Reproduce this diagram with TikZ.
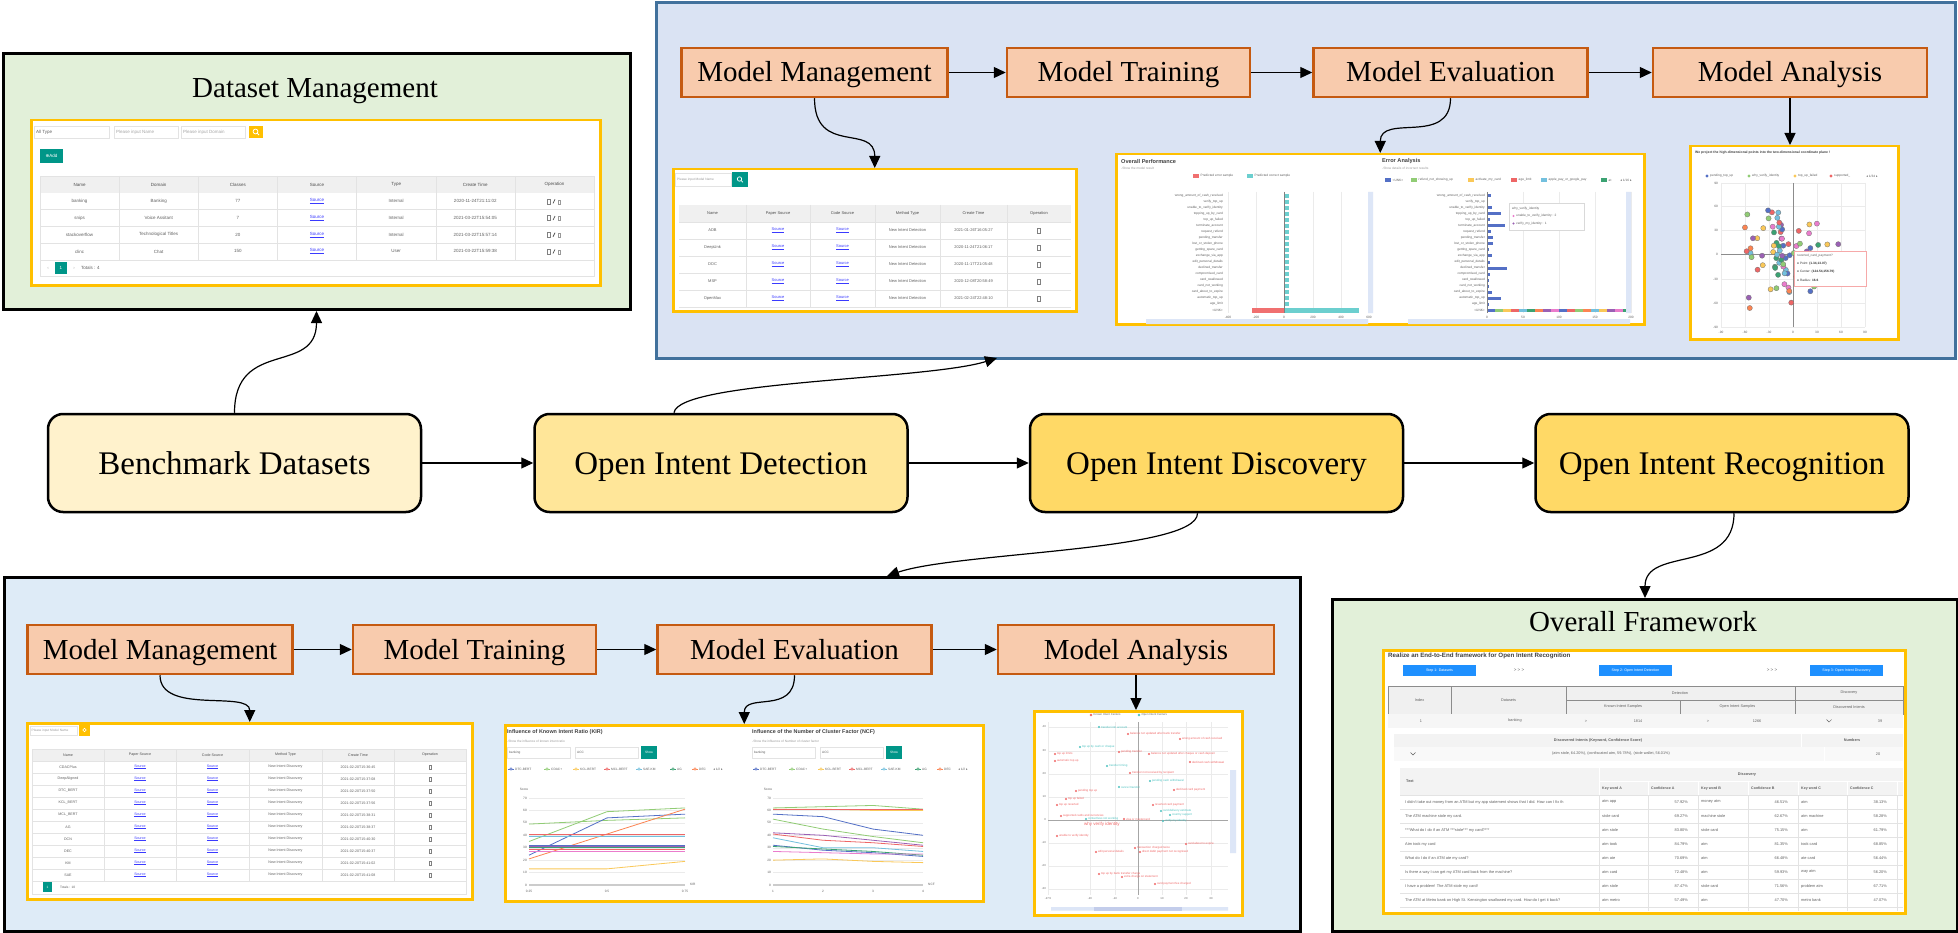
\documentclass[tikz,border=0pt]{standalone}
\usepackage{fontspec}
\setmainfont{Liberation Serif}
\newfontfamily\uifont{Liberation Sans}
\newfontfamily\symfont{DejaVu Sans}
\usepackage{xcolor}
\usepackage{tikz}
\usetikzlibrary{arrows.meta,positioning,calc}
\definecolor{PanelGreen}{HTML}{E2F0D9}
\definecolor{PanelBlue}{HTML}{DAE3F3}
\definecolor{PanelBlueEdge}{HTML}{41719C}
\definecolor{PanelSky}{HTML}{DEEBF7}
\definecolor{MgmtFill}{HTML}{F8CBAD}
\definecolor{MgmtEdge}{HTML}{C55A11}
\definecolor{StageLight}{HTML}{FFF2CC}
\definecolor{StageMid}{HTML}{FFE699}
\definecolor{StageDeep}{HTML}{FFD966}
\definecolor{ShotEdge}{HTML}{FFC000}
\definecolor{UiGreen}{HTML}{009688}
\definecolor{UiGrey}{HTML}{F0F0F0}
\definecolor{UiLine}{HTML}{E3E3E3}
\definecolor{UiText}{HTML}{606060}
\definecolor{UiBlue}{HTML}{1E90FF}
\definecolor{UiLink}{HTML}{3A3AFF}
\definecolor{UiCyan}{HTML}{6CCFCF}
\definecolor{UiRed}{HTML}{F07070}
\definecolor{UiSky}{HTML}{DDE6F7}
\definecolor{CenterRed}{HTML}{F06666}
\definecolor{CenterCyan}{HTML}{4CC2C0}
\definecolor{Sc0}{HTML}{5470C6}
\definecolor{Sc1}{HTML}{91CC75}
\definecolor{Sc2}{HTML}{FAC858}
\definecolor{Sc3}{HTML}{EE6666}
\definecolor{Sc4}{HTML}{73C0DE}
\definecolor{Sc5}{HTML}{3BA272}
\definecolor{Sc6}{HTML}{FC8452}
\definecolor{Sc7}{HTML}{9A60B4}
\definecolor{Sc8}{HTML}{EA7CCC}
\newcommand\evlabels{wrong\_amount\_of\_cash\_received, verify\_top\_up, unable\_to\_verify\_identity, topping\_up\_by\_card, top\_up\_failed, terminate\_account, request\_refund, pending\_transfer, lost\_or\_stolen\_phone, getting\_spare\_card, exchange\_via\_app, edit\_personal\_details, declined\_transfer, compromised\_card, card\_swallowed, card\_not\_working, card\_about\_to\_expire, automatic\_top\_up, age\_limit, <UNK>}

\begin{document}
\begin{tikzpicture}[x=1pt, y=-1pt,
  panel/.style={draw, line width=3pt, inner sep=0pt, anchor=north west},
  paneltitle/.style={font=\fontsize{29}{34}\selectfont},
  stage/.style={draw, line width=2.5pt, rounded corners=15pt, minimum width=373pt, minimum height=98pt, text height=22pt, text depth=0pt, font=\fontsize{33}{38}\selectfont},
  mbox/.style={draw=MgmtEdge, fill=MgmtFill, line width=2.5pt, minimum height=49pt, text height=19pt, text depth=0pt, font=\fontsize{29}{34}\selectfont},
  shot/.style={draw=ShotEdge, fill=white, line width=2.5pt, anchor=north west, inner sep=0pt},
  arrow/.style={-{Triangle[length=12pt,width=11pt]}, line width=1.2pt},
  ui/.style={font=\uifont\fontsize{4.5}{5}\selectfont, text=UiText, inner sep=0pt},
  uihead/.style={font=\uifont\bfseries\fontsize{5.6}{6}\selectfont, text=black!75, inner sep=0pt},
  micro/.style={font=\uifont\fontsize{3.2}{4}\selectfont, text=UiText, inner sep=0pt}
]
\useasboundingbox (0,0) rectangle (1958,933);

\node[panel, fill=PanelGreen, minimum width=627pt, minimum height=256pt] (dspanel) at (1.5,52) {};
\node[panel, draw=PanelBlueEdge, fill=PanelBlue, minimum width=1299pt, minimum height=355pt] (detpanel) at (655,1.5) {};
\node[panel, fill=PanelSky, minimum width=1296pt, minimum height=354pt] (dispanel) at (3,576) {};
\node[panel, fill=PanelGreen, minimum width=625pt, minimum height=332pt] (fwpanel) at (1331,598) {};
\node[paneltitle] (dstitle) at (315,91) {Dataset Management};
\node[paneltitle] (fwtitle) at (1643,622) {Overall Framework};

\node[stage, fill=StageLight] (bench) at (234.5,463) {Benchmark Datasets};
\node[stage, fill=StageMid, right=111pt of bench] (odet) {Open Intent Detection};
\node[stage, fill=StageDeep, right=120pt of odet] (odis) {Open Intent Discovery};
\node[stage, fill=StageDeep, right=130pt of odis] (orec) {Open Intent Recognition};

\node[mbox, minimum width=266pt] (mm1) at (814.5,72.5) {Model Management};
\node[mbox, minimum width=243pt, right=57pt of mm1] (mt1) {Model Training};
\node[mbox, minimum width=274pt, right=61pt of mt1] (me1) {Model Evaluation};
\node[mbox, minimum width=274pt, right=63pt of me1] (ma1) {Model Analysis};
\node[mbox, minimum width=265pt] (mm2) at (160,649.5) {Model Management};
\node[mbox, minimum width=243pt, right=58pt of mm2] (mt2) {Model Training};
\node[mbox, minimum width=274pt, right=59pt of mt2] (me2) {Model Evaluation};
\node[mbox, minimum width=276pt, right=64pt of me2] (ma2) {Model Analysis};

\node[shot, minimum width=569pt, minimum height=165pt] (dsshot) at (30,119) {};
\draw[UiLine] (34,126) rectangle (109,138) (114,126) rectangle (178,138) (181,126) rectangle (245,138);
\node[ui, anchor=west] (dstype) at (36,132) {All Type};
\node[ui, anchor=west, text=black!35] (dsname) at (116,132) {Please input Name};
\node[ui, anchor=west, text=black!35] (dsdomain) at (183,132) {Please input Domain};
\fill[ShotEdge] (249,126) rectangle (263,138);
\draw[white, line width=0.8pt] (255.5,131.5) circle[radius=2.4pt] (257.3,133.3) -- (259,135);
\fill[UiGreen] (40,149) rectangle (63,163);
\node[ui, text=white] (dsadd) at (51.5,156) {{\symfont\fontsize{4.5}{5}\selectfont ⊕}Add};
\fill[UiGrey] (40,176) rectangle (594,193);
\draw[UiLine] (40,176) rectangle (594,276);
\foreach \k in {1,...,4} \draw[UiLine] (40,{193+16.7*\k}) -- (594,{193+16.7*\k});
\foreach \k in {1,...,6} \draw[UiLine] ({40+79.14*\k},176) -- ({40+79.14*\k},260);
\foreach \hd [count=\i] in {Name,Domain,Classes,Source,Type,Create Time,Operation}
  \node[ui, text=black!70] (dsh\i) at ({40+79.14*(\i-0.5)},184.5) {\hd};
\foreach \dn/\dd/\dc/\dt/\dm [count=\rw] in {banking/Banking/77/Internal/2020-11-24T21:11:02, snips/Voice Assitant/7/Internal/2021-03-22T15:54:05, stackoverflow/Technological Titles/20/Internal/2021-03-22T15:57:14, clinc/Chat/150/User/2021-03-22T15:59:38} {
  \pgfmathsetmacro\yy{193+16.7*(\rw-0.5)}
  \node[ui] (dsn\rw) at (79.6,\yy) {\dn};
  \node[ui] (dsd\rw) at (158.7,\yy) {\dd};
  \node[ui] (dsc\rw) at (237.8,\yy) {\dc};
  \node[ui, text=UiLink] (dss\rw) at (317,\yy) {\underline{Source}};
  \node[ui] (dst\rw) at (396.1,\yy) {\dt};
  \node[ui] (dsm\rw) at (475.3,\yy) {\dm};
  \draw[black!50, line width=0.5pt] (547,\yy-2.5) rectangle (550,\yy+2.5);
  \draw[black!70, line width=0.7pt] (553,\yy+2) -- (555,\yy-2);
  \draw[black!40, line width=0.5pt] (558,\yy-1.5) rectangle (560.5,\yy+2.5);
}
\node[ui, text=black!35] (dsprev) at (48,268) {‹};
\fill[UiGreen] (55,262) rectangle (67,274);
\node[ui, text=white] (dspage) at (61,268) {1};
\node[ui, text=black!35] (dsnext) at (74,268) {›};
\node[ui, anchor=west] (dstotal) at (81,268) {Totals : 4};

\node[shot, minimum width=403pt, minimum height=142pt] (mmshot1) at (672,168) {};
\draw[UiLine] (675,173) rectangle (731,186);
\node[micro, anchor=west, text=black!40] (mmsearch1) at (677,179.5) {Please input Model Name};
\fill[UiGreen] (732,172) rectangle (748,187);
\draw[white, line width=0.7pt] (739.5,179) circle[radius=2.2pt] (741.2,180.7) -- (742.8,182.3);
\fill[UiGrey] (679,205) rectangle (1071,222);
\foreach \k in {0,...,5} \draw[UiLine] (679,{222+17*\k}) -- (1071,{222+17*\k});
\foreach \cx in {746,810,875,940,1007} \draw[UiLine] (\cx,205) -- (\cx,307);
\foreach \hd/\cx [count=\i] in {Name/712.5,Paper Source/778,Code Source/842.5,Method Type/907.5,Create Time/973.5,Operation/1039}
  \node[ui, text=black!70, font=\uifont\fontsize{4}{5}\selectfont] (mmh\i) at (\cx,213.5) {\hd};
\foreach \dn/\dm [count=\rw] in {ADB/2021-01-26T16:05:27, DeepUnk/2020-11-24T21:06:17, DOC/2020-11-17T21:05:48, MSP/2020-12-08T20:58:49, OpenMax/2021-02-24T22:48:10} {
  \pgfmathsetmacro\yy{222+17*(\rw-0.5)}
  \node[ui, font=\uifont\fontsize{4}{5}\selectfont] (mmn\rw) at (712.5,\yy) {\dn};
  \node[ui, text=UiLink, font=\uifont\fontsize{4}{5}\selectfont] (mmp\rw) at (778,\yy) {\underline{Source}};
  \node[ui, text=UiLink, font=\uifont\fontsize{4}{5}\selectfont] (mmc\rw) at (842.5,\yy) {\underline{Source}};
  \node[ui, font=\uifont\fontsize{4}{5}\selectfont] (mmt\rw) at (907.5,\yy) {New Intent Detection};
  \node[ui, font=\uifont\fontsize{4}{5}\selectfont] (mmd\rw) at (973.5,\yy) {\dm};
  \draw[black!50, line width=0.5pt] (1037.5,\yy-2.5) rectangle (1040.5,\yy+2.5);
}

\node[shot, minimum width=528pt, minimum height=170pt] (evshot) at (1115,153) {};
\node[uihead, anchor=west] (evtitle) at (1121,161) {Overall Performance};
\node[micro, anchor=west, text=black!40] (evsub) at (1121,168.5) {-Show the model result};
\fill[UiRed] (1193,174) rectangle (1199,178);
\node[micro, anchor=west] (evleg1) at (1200.5,176) {Predicted error sample};
\fill[UiCyan] (1247,174) rectangle (1253,178);
\node[micro, anchor=west] (evleg2) at (1254.5,176) {Predicted correct sample};
\node[uihead, anchor=west] (eatitle) at (1382,161) {Error Analysis};
\node[micro, anchor=west, text=black!40] (easub) at (1382,168.5) {-Show details of incorrect results};
\foreach \cc/\lx/\lt [count=\i] in {Sc0/1385/<UNK>, Sc1/1411/refund\_not\_showing\_up, Sc2/1468/activate\_my\_card, Sc3/1511/age\_limit, Sc4/1541/apple\_pay\_or\_google\_pay, Sc5/1601/at} {
  \fill[\cc] (\lx,178) rectangle (\lx+6,182);
  \node[micro, anchor=west] (ealeg\i) at (\lx+7.5,180) {\lt};
}
\node[micro] (eapage) at (1626,180) {{\symfont\fontsize{3.2}{4}\selectfont ◂} 1/16 {\symfont\fontsize{3.2}{4}\selectfont ▸}};
\foreach \gx/\gl [count=\i] in {1228/-400,1256/-200,1284/0,1313/200,1341/400,1369/600} {
  \draw[black!8] (\gx,192) -- (\gx,313);
  \node[micro] (evx\i) at (\gx,317.5) {\gl};
}
\foreach \gx/\gl [count=\i] in {1487/0,1523/50,1559/100,1595/150,1631/200} {
  \draw[black!8] (\gx,192) -- (\gx,313);
  \node[micro] (eax\i) at (\gx,317.5) {\gl};
}
\foreach \lab [count=\k] in \evlabels {
  \node[micro, anchor=east] (evl\k) at (1223,{190+6*\k}) {\lab};
  \node[micro, anchor=east] (eal\k) at (1485,{190+6*\k}) {\lab};
}
\foreach \k in {1,...,19} \fill[UiCyan] (1284,{190+6*\k-2.4}) rectangle (1288.5,{190+6*\k+2.4});
\fill[UiRed] (1252,308) rectangle (1284,312.5);
\fill[UiCyan] (1284,308) rectangle (1359,312.5);
\foreach \w [count=\k] in {4,1,5,14,3,18,4,6,6,2,5,3,20,3,2,2,5,14,2}
  \fill[Sc0] (1487,{190+6*\k-1.5}) rectangle ({1487+\w},{190+6*\k+1.5});
\foreach \cc [count=\k] in {Sc0,Sc1,Sc2,Sc3,Sc4,Sc5,Sc6,Sc7,Sc8,Sc0,Sc3,Sc1,Sc6,Sc4,Sc2,Sc7,Sc8,Sc5}
  \fill[\cc] ({1487+8*(\k-1)},308.5) rectangle ({1487+8*\k},312);
\draw[black!50, line width=0.5pt] (1284,192) -- (1284,313) (1487,192) -- (1487,313);
\fill[UiSky] (1368,192) rectangle (1373,313) (1146,319) rectangle (1368,324) (1626,192) rectangle (1631,313) (1408,319) rectangle (1630,324);
\draw[black!15, fill=white] (1509,203) rectangle (1584,230);
\node[micro, anchor=west] (eatip1) at (1512,208.5) {why\_verify\_identity};
\fill[Sc8] (1513.5,216) circle[radius=1.2pt];
\node[micro, anchor=west] (eatip2) at (1516,216) {unable\_to\_verify\_identity : 2};
\fill[Sc7] (1513.5,223.5) circle[radius=1.2pt];
\node[micro, anchor=west] (eatip3) at (1516,223.5) {verify\_my\_identity : 1};

\node[shot, minimum width=208pt, minimum height=193pt] (anshot) at (1689,145) {};
\node[micro, anchor=west, text=black!75, font=\uifont\bfseries\fontsize{3.4}{4}\selectfont] (antitle) at (1695,153) {We project the high-dimensional points into the two-dimensional coordinate plane !};
\foreach \cc/\lx/\lt [count=\i] in {Sc0/1707/pending\_top\_up, Sc1/1749/why\_verify\_identity, Sc2/1795/top\_up\_failed, Sc3/1831/supported\_} {
  \fill[\cc] (\lx,176) circle[radius=1.6pt];
  \node[micro, anchor=west] (anleg\i) at (\lx+3,176) {\lt};
}
\node[micro] (anpage) at (1872,176) {{\symfont\fontsize{3.2}{4}\selectfont ◂} 1/34 {\symfont\fontsize{3.2}{4}\selectfont ▸}};
\foreach \gx in {1721,1745,1769,1817,1841,1865} \draw[black!8] (\gx,183) -- (\gx,327);
\foreach \gy/\gl [count=\i] in {183/90,206/60,230/30,254/0,279/-30,303/-60,327/-90} {
  \draw[black!8] (1721,\gy) -- (1865,\gy);
  \node[micro, anchor=east] (any\i) at (1718,\gy) {\gl};
}
\foreach \gx/\gl [count=\i] in {1721/-90,1745/-60,1769/-30,1793/0,1817/30,1841/60,1865/90}
  \node[micro] (anx\i) at (\gx,332) {\gl};
\draw[black!45, line width=0.5pt] (1721,254) -- (1865,254) (1793,183) -- (1793,327);
\pgfmathsetseed{23}
\foreach \i in {1,...,85} {
  \pgfmathsetmacro\px{1788+27*(rand+rand)}
  \pgfmathsetmacro\py{256+30*(rand+rand)}
  \pgfmathtruncatemacro\ci{mod(\i,9)}
  \filldraw[fill=Sc\ci, draw=black!55, line width=0.3pt] (\px,\py) circle[radius=2.6pt];
}
\draw[UiRed!60, fill=white] (1794,251) rectangle (1866,286);
\node[micro, anchor=west] (antip1) at (1797,256) {reverted\_card\_payment?};
\node[micro, anchor=west, text=black!80] (antip2) at (1797,264) {● Point: \textbf{(1.34,13.07)}};
\node[micro, anchor=west, text=black!80] (antip3) at (1797,272) {● Center: \textbf{(124.54,156.79)}};
\node[micro, anchor=west, text=black!80] (antip4) at (1797,280) {● Radius: \textbf{16.6}};

\node[shot, minimum width=445pt, minimum height=176pt] (mmshot2) at (26,722) {};
\draw[UiLine] (30,726) rectangle (77,735);
\node[micro, anchor=west, text=black!40] (mmsearch2) at (31.5,730.5) {Please input Model Name};
\fill[ShotEdge] (79,725) rectangle (90,736);
\draw[white, line width=0.6pt] (84.5,730) circle[radius=1.8pt];
\fill[UiGrey] (32,749) rectangle (466,761);
\foreach \k in {0,...,10} \draw[UiLine] (32,{761+12*\k}) -- (466,{761+12*\k});
\draw[UiLine] (32,749) rectangle (466,894);
\foreach \cx in {104,176,249,322,394} \draw[UiLine] (\cx,749) -- (\cx,881);
\foreach \hd/\cx [count=\i] in {Name/68,Paper Source/140,Code Source/212.5,Method Type/285.5,Create Time/358,Operation/430}
  \node[micro, text=black!70, font=\uifont\fontsize{3.6}{4}\selectfont] (mdh\i) at (\cx,755) {\hd};
\foreach \dn/\dm [count=\rw] in {CDACPlus/15:36:45, DeepAligned/15:37:08, DTC\_BERT/15:37:50, KCL\_BERT/15:37:56, MCL\_BERT/15:38:31, AG/15:38:37, DCN/15:40:30, DEC/15:40:37, KM/15:41:02, SAE/15:41:08} {
  \pgfmathsetmacro\yy{761+12*(\rw-0.5)}
  \node[micro, font=\uifont\fontsize{3.6}{4}\selectfont] (mdn\rw) at (68,\yy) {\dn};
  \node[micro, text=UiLink, font=\uifont\fontsize{3.6}{4}\selectfont] (mdp\rw) at (140,\yy) {\underline{Source}};
  \node[micro, text=UiLink, font=\uifont\fontsize{3.6}{4}\selectfont] (mdc\rw) at (212.5,\yy) {\underline{Source}};
  \node[micro, font=\uifont\fontsize{3.6}{4}\selectfont] (mdt\rw) at (285.5,\yy) {New Intent Discovery};
  \node[micro, font=\uifont\fontsize{3.6}{4}\selectfont] (mdd\rw) at (358,\yy) {2021-02-20T\dm};
  \draw[black!50, line width=0.4pt] (429,\yy-2.2) rectangle (431.5,\yy+2.2);
}
\fill[UiGreen] (43,882) rectangle (52,892);
\node[micro, text=white] (mdpage) at (47.5,887) {1};
\node[micro, anchor=west] (mdtotal) at (60,887) {Totals : 10};

\node[shot, minimum width=478pt, minimum height=176pt] (evshot2) at (504,724) {};
\foreach \off/\ttl/\sub/\xa/\xb/\ax [count=\i] in {0/Influence of Known Intent Ratio (KIR)/-Show the influence of known intent ratio/529/685/KIR, 245/Influence of the Number of Cluster Factor (NCF)/-Show the influence of Number of cluster factor/773/923/NCF} {
  \node[uihead, anchor=west, font=\uifont\bfseries\fontsize{5.4}{6}\selectfont] (ictitle\i) at (507+\off,732) {\ttl};
  \node[micro, anchor=west, text=black!40] (icsub\i) at (507+\off,741) {\sub};
  \draw[UiLine] (507+\off,747) rectangle (570+\off,758) (575+\off,747) rectangle (638+\off,758);
  \node[micro, anchor=west] (icdata\i) at (509+\off,752.5) {banking};
  \node[micro, anchor=west] (icmetric\i) at (577+\off,752.5) {ACC};
  \fill[UiGreen] (641+\off,746) rectangle (657+\off,759);
  \node[micro, text=white] (icshow\i) at (649+\off,752.5) {Show};
  \foreach \cc/\lx/\lt in {Sc0/511/DTC-BERT, Sc1/547/CDAC+, Sc2/576/KCL-BERT, Sc3/607/MCL-BERT, Sc4/639/SAE-KM, Sc5/673/AG, Sc6/695/DEC} {
    \draw[\cc, line width=0.6pt] (\lx-3+\off,769) -- (\lx+3+\off,769);
    \draw[\cc, fill=white, line width=0.5pt] (\lx+\off,769) circle[radius=1.3pt];
    \node[micro, anchor=west] at (\lx+4+\off,769) {\lt};
  }
  \node[micro] (icpage\i) at (718+\off,769) {{\symfont\fontsize{3.2}{4}\selectfont ◂} 1/2 {\symfont\fontsize{3.2}{4}\selectfont ▸}};
  \node[micro] (icscore\i) at (\xa-5,789) {Score};
  \foreach \s in {10,20,...,70} {
    \draw[black!8] (\xa,{885-1.243*\s}) -- (\xb,{885-1.243*\s});
    \node[micro, anchor=east] at (\xa-2,{885-1.243*\s}) {\s};
  }
  \node[micro, anchor=east] (iczero\i) at (\xa-2,885) {0};
  \draw[black!20, line width=1.6pt] (\xa,885) -- (\xb,885);
  \node[micro, anchor=west] (icaxis\i) at (\xb+5,884) {\ax};
}
\foreach \gx/\gl [count=\i] in {529/0.25,607/0.5,685/0.75,773/1,823/2,873/3,923/4}
  \node[micro] (icx\i) at (\gx,891) {\gl};
\begin{scope}[shift={(451,885)}, x=312pt, y=1.243pt, line width=0.8pt]
  \foreach \cc/\sa/\sb/\sc in {Sc1/49/52/54, Sc1/35/59/62, Sc0/24/54/57, Sc6/21/41/61, Sc3/41/41/41, Sc4/39/39/39, Sc0/32/32/32, Sc7/31/31/31, Sc5/30/30/30, Sc3/29/29/29, Sc8/27/27/27, Sc2/13/13/19}
    \draw[\cc] (0.25,\sa) -- (0.5,\sb) -- (0.75,\sc);
\end{scope}
\begin{scope}[shift={(723,885)}, x=50pt, y=1.243pt, line width=0.8pt]
  \foreach \cc/\sa/\sb/\sc/\sd in {Sc1/62/63/64/61, Sc2/61/61/60/60, Sc3/60.5/60.5/60.5/60.5, Sc0/57/55/45/40, Sc1/53/45/39/34, Sc7/42/40/36/32, Sc3/41/36/34/31, Sc4/38/30/30/27, Sc0/32/28/26/23, Sc5/31/29/27/24, Sc8/27/26/25/25, Sc2/20/21/19/18}
    \draw[\cc] (1,\sa) -- (2,\sb) -- (3,\sc) -- (4,\sd);
\end{scope}

\node[shot, minimum width=208pt, minimum height=204pt] (anshot2) at (1033,710) {};
\fill[CenterRed] (1091,715) circle[radius=1.3pt];
\node[micro, anchor=west, font=\uifont\fontsize{2.8}{3}\selectfont] (cdleg1) at (1093.5,715) {Known Intent Centers};
\fill[CenterCyan] (1139,715) circle[radius=1.3pt];
\node[micro, anchor=west, font=\uifont\fontsize{2.8}{3}\selectfont] (cdleg2) at (1141.5,715) {Open Intent Centers};
\foreach \gy/\gl [count=\i] in {727/40,751/30,774/20,797/10,820/0,843/-10,866/-20,889/-30} {
  \draw[black!8] (1048,\gy) -- (1228,\gy);
  \node[micro, anchor=east, font=\uifont\fontsize{2.8}{3}\selectfont] (cdy\i) at (1046,\gy) {\gl};
}
\foreach \gx/\gl [count=\i] in {1048/-27.5,1090/-20,1115/-10,1138/0,1162/10,1186/20,1211/30} {
  \draw[black!8] (\gx,722) -- (\gx,895);
  \node[micro, font=\uifont\fontsize{2.8}{3}\selectfont] (cdx\i) at (\gx,899) {\gl};
}
\draw[black!35, line width=0.6pt] (1048,820) -- (1228,820) (1138,722) -- (1138,895);
\foreach \qx/\qy/\qc/\ql in {1099/727/CenterCyan/transfer into account, 1128/734/CenterRed/balance not updated after bank transfer, 1180/739/CenterRed/wrong amount of cash received, 1080/747/CenterCyan/top up by cash or cheque, 1119/752/CenterRed/pending transfer, 1149/754/CenterRed/balance not updated after cheque or cash deposit, 1055/754/CenterRed/top up limits, 1055/761/CenterRed/automatic top up, 1190/762/CenterRed/declined cash withdrawal, 1107/766/CenterCyan/transfer timing, 1130/773/CenterRed/transfer not received by recipient, 1150/781/CenterCyan/pending cash withdrawal, 1119/787/CenterCyan/cancel transfer, 1076/791/CenterRed/pending top up, 1174/790/CenterRed/declined card payment, 1066/799/CenterRed/top up failed, 1057/805/CenterRed/top up reverted, 1153/805/CenterRed/reverted card payment, 1161/811/CenterCyan/card delivery estimate, 1061/816/CenterRed/supported cards and currencies, 1170/815/CenterCyan/country support, 1086/819/CenterCyan/contactless not working, 1124/819/CenterRed/visa or mastercard, 1163/821/CenterCyan/verify my identity, 1057/836/CenterRed/unable to verify identity, 1186/844/CenterRed/card about to expire, 1135/848/CenterRed/transaction charged twice, 1096/852/CenterRed/edit personal details, 1140/852/CenterRed/direct debit payment not recognised, 1099/874/CenterRed/top up by bank transfer charge, 1122/877/CenterRed/extra charge on statement, 1155/884/CenterRed/card payment fee charged} {
  \fill[\qc] (\qx,\qy) circle[radius=1.2pt];
  \node[micro, anchor=west, text=\qc, font=\uifont\fontsize{2.9}{3}\selectfont] at (\qx+1.8,\qy) {\ql};
}
\node[micro, anchor=west, text=CenterRed, font=\uifont\fontsize{4.5}{5}\selectfont] (cdbig) at (1084,824) {why verify identity};
\fill[UiSky] (1051,907) rectangle (1228,910.5) (1230,770) rectangle (1236,853);
\fill[Sc0!35] (1094,906.5) rectangle (1182,911);

\node[shot, minimum width=522pt, minimum height=263pt] (fwshot) at (1382,649) {};
\node[uihead, anchor=west, font=\uifont\bfseries\fontsize{6.2}{7}\selectfont] (fwhead) at (1388,655.5) {Realize an End-to-End framework for Open Intent Recognition};
\foreach \bx/\bt [count=\i] in {1403/Step 1: Datasets, 1599/Step 2: Open Intent Detection, 1810/Step 3: Open Intent Discovery} {
  \fill[UiBlue] (\bx,665) rectangle (\bx+73,676);
  \node[micro, text=white, font=\uifont\fontsize{3.6}{4}\selectfont] (fwstep\i) at (\bx+36.5,670.5) {\bt};
}
\node[ui] (fwgo1) at (1519,670.5) {> > >};
\node[ui] (fwgo2) at (1772,670.5) {> > >};
\fill[UiGrey] (1388,686) rectangle (1903,714);
\draw[black!45, line width=0.7pt] (1388,686) rectangle (1903,714) (1451,686) -- (1451,714) (1566,686) -- (1566,714) (1795,686) -- (1795,714) (1566,700) -- (1903,700) (1680,700) -- (1680,714);
\node[micro, font=\uifont\fontsize{3.8}{4}\selectfont] (fwidx) at (1419.5,700) {Index};
\node[micro, font=\uifont\fontsize{3.8}{4}\selectfont] (fwdata) at (1508.5,700) {Datasets};
\node[micro, font=\uifont\fontsize{3.8}{4}\selectfont] (fwdet) at (1680,693) {Detection};
\node[micro, font=\uifont\fontsize{3.8}{4}\selectfont] (fwdis) at (1849,693) {Discovery};
\node[micro, font=\uifont\fontsize{3.8}{4}\selectfont] (fwknown) at (1623,707) {Known Intent Samples};
\node[micro, font=\uifont\fontsize{3.8}{4}\selectfont] (fwopen) at (1737.5,707) {Open Intent Samples};
\node[micro, font=\uifont\fontsize{3.8}{4}\selectfont] (fwfound) at (1849,707) {Discovered Intents};
\fill[UiGrey!60] (1388,714) rectangle (1903,728);
\foreach \cx/\ct [count=\i] in {1421/1, 1515/banking, 1586/>, 1638/1814, 1708/>, 1757/1266, 1880/39}
  \node[micro, font=\uifont\fontsize{3.8}{4}\selectfont] (fwrow\i) at (\cx,721) {\ct};
\draw[UiText, line width=0.4pt] (1826.5,719.5) -- (1829,722) -- (1831.5,719.5);
\fill[UiGrey!80] (1394,734) rectangle (1903,747);
\fill[UiGrey!40] (1394,747) rectangle (1903,761);
\draw[white, line width=0.8pt] (1801,734) -- (1801,747) (1824,747) -- (1824,761);
\node[micro, font=\uifont\bfseries\fontsize{3.8}{4}\selectfont] (fwkey) at (1598,740.5) {Discovered Intents (Keyword, Confidence Score)};
\node[micro, font=\uifont\bfseries\fontsize{3.8}{4}\selectfont] (fwnum) at (1852,740.5) {Numbers};
\draw[UiText, line width=0.4pt] (1410.5,752.5) -- (1413,755) -- (1415.5,752.5);
\node[micro, font=\uifont\fontsize{3.8}{4}\selectfont] (fwintents) at (1611,754) {(atm stole, 64.20\%), (confiscated atm, 59.78\%), (stole wallet, 56.01\%)};
\node[micro, font=\uifont\fontsize{3.8}{4}\selectfont] (fwcount) at (1878,754) {20};
\fill[UiGrey!80] (1400,768) rectangle (1903,796);
\draw[white, line width=0.8pt] (1599,768) -- (1599,796) (1599,781) -- (1903,781);
\foreach \cx in {1648,1698,1748,1798,1847,1897} \draw[white, line width=0.8pt] (\cx,781) -- (\cx,796);
\node[micro, anchor=west, font=\uifont\bfseries\fontsize{3.8}{4}\selectfont] (fwtext) at (1406,781.5) {Text};
\node[micro, font=\uifont\bfseries\fontsize{3.8}{4}\selectfont] (fwdisc) at (1747,774.5) {Discovery};
\foreach \cx/\ct [count=\i] in {1602/Key word A, 1651/Confidence A, 1701/Key word B, 1751/Confidence B, 1801/Key word C, 1850/Confidence C}
  \node[micro, anchor=west, font=\uifont\bfseries\fontsize{3.6}{4}\selectfont] (fwsub\i) at (\cx,788.5) {\ct};
\foreach \k in {0,...,8} \draw[UiLine] (1400,{795+14*\k}) -- (1903,{795+14*\k});
\foreach \cx in {1599,1648,1698,1748,1798,1847,1897} \draw[UiLine] (\cx,796) -- (\cx,911);
\foreach \tx/\ka/\pa/\kb/\pb/\kc/\pc [count=\rw] in {I didn't take out money from an ATM but my app statement shows that I did. How can I fix th/atm app/57.92\%/money atm/46.51\%/atm/38.13\%, The ATM machine stole my card./stole card/69.27\%/machine stole/62.67\%/atm machine/58.28\%, ***What do I do if an ATM ***stole*** my card?***/atm stole/83.80\%/stole card/75.15\%/atm/61.79\%, Atm took my card/atm took/84.79\%/atm/81.35\%/took card/68.85\%, What do I do if an ATM ate my card?/atm ate/70.69\%/atm/66.48\%/ate card/56.44\%, Is there a way I can get my ATM card back from the machine?/atm card/72.48\%/atm/59.93\%/way atm/56.20\%, I have a problem! The ATM stole my card!/atm stole/87.47\%/stole card/71.56\%/problem atm/67.71\%, The ATM at Metro bank on High St. Kensington swallowed my card. How do I get it back?/atm metro/57.49\%/atm/47.70\%/metro bank/47.07\%} {
  \pgfmathsetmacro\yy{802+14*(\rw-1)}
  \node[micro, anchor=west, font=\uifont\fontsize{3.9}{4}\selectfont] (fwt\rw) at (1405,\yy) {\tx};
  \node[micro, anchor=west, font=\uifont\fontsize{3.9}{4}\selectfont] (fwka\rw) at (1602,\yy) {\ka};
  \node[micro, anchor=east, font=\uifont\fontsize{3.9}{4}\selectfont] (fwpa\rw) at (1688,\yy) {\pa};
  \node[micro, anchor=west, font=\uifont\fontsize{3.9}{4}\selectfont] (fwkb\rw) at (1701,\yy) {\kb};
  \node[micro, anchor=east, font=\uifont\fontsize{3.9}{4}\selectfont] (fwpb\rw) at (1788,\yy) {\pb};
  \node[micro, anchor=west, font=\uifont\fontsize{3.9}{4}\selectfont] (fwkc\rw) at (1801,\yy) {\kc};
  \node[micro, anchor=east, font=\uifont\fontsize{3.9}{4}\selectfont] (fwpc\rw) at (1887,\yy) {\pc};
}

\coordinate (detin) at (997,358);
\coordinate (disin) at (887,576);
\draw[arrow] (bench) -- (odet);
\draw[arrow] (odet) -- (odis);
\draw[arrow] (odis) -- (orec);
\draw[arrow] (mm1) -- (mt1);
\draw[arrow] (mt1) -- (me1);
\draw[arrow] (me1) -- (ma1);
\draw[arrow] (mm2) -- (mt2);
\draw[arrow] (mt2) -- (me2);
\draw[arrow] (me2) -- (ma2);
\draw[arrow] (bench.north) .. controls +(0,-75) and +(0,65) .. (dspanel.south);
\draw[arrow] ([xshift=-47pt]odet.north) .. controls +(4,-32) and +(-70,22) .. (detin);
\draw[arrow] ([xshift=-19pt]odis.south) .. controls +(0,38) and +(70,-24) .. (disin);
\draw[arrow] ([xshift=12pt]orec.south) .. controls +(0,62) and +(0,-52) .. (fwpanel.north);
\draw[arrow] (mm1.south) .. controls +(0,58) and +(0,-45) .. (mmshot1.north);
\draw[arrow] (me1.south) .. controls +(0,48) and +(0,-40) .. (evshot.north);
\draw[arrow] (ma1.south) -- (ma1.south |- anshot.north);
\draw[arrow] (mm2.south) .. controls +(0,40) and +(0,-32) .. (mmshot2.north);
\draw[arrow] (me2.south) .. controls +(0,40) and +(0,-32) .. (evshot2.north);
\draw[arrow] (ma2.south) -- (ma2.south |- anshot2.north);
\end{tikzpicture}
\end{document}
